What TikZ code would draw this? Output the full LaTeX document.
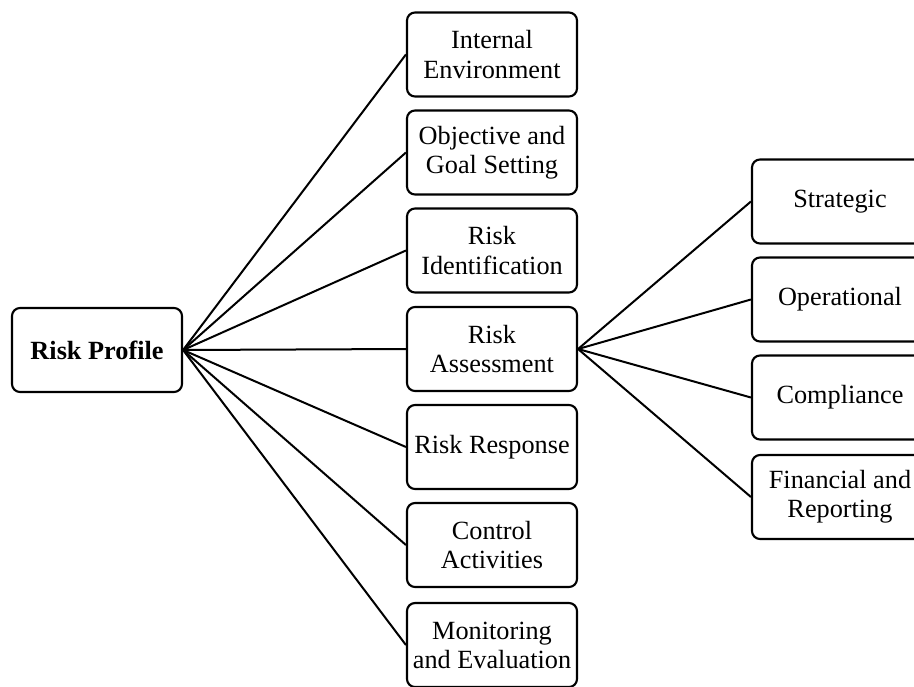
\documentclass[tikz,border=0pt]{standalone}
\usepackage{fontspec}
\setmainfont{Liberation Serif}
\begin{document}
\begin{tikzpicture}[x=0.75pt,y=-0.75pt,
  box/.style={draw, line width=1.6pt, rounded corners=6pt, minimum width=127.5pt,
    minimum height=63pt, align=center, inner sep=0pt,
    font=\fontsize{19.7}{21.8}\selectfont},
  wide/.style={minimum width=132pt},
  link/.style={line width=1.5pt}]
\useasboundingbox (0,0) rectangle (914,686);
\clip (0,0) rectangle (914,686);
\node[box, font=\fontsize{19.7}{21.8}\selectfont\bfseries] (rp) at (97,350) {Risk Profile};
\node[box] (ie) at (492,54.5) {Internal\\Environment};
\node[box] (og) at (492,152.5) {Objective and\\Goal Setting};
\node[box] (ri) at (492,250.5) {Risk\\Identification};
\node[box] (ra) at (492,349) {Risk\\Assessment};
\node[box] (rr) at (492,447) {Risk Response};
\node[box] (ca) at (492,545) {Control\\Activities};
\node[box] (me) at (492,645) {Monitoring\\and Evaluation};
\node[box, wide] (st) at (840,201.5) {Strategic};
\node[box, wide] (op) at (840,299.5) {Operational};
\node[box, wide] (co) at (840,397.5) {Compliance};
\node[box, wide] (fr) at (840,497) {Financial and\\Reporting};
\foreach \t in {ie,og,ri,ra,rr,ca,me}
  \draw[link] (rp.east) -- (\t.west);
\foreach \t in {st,op,co,fr}
  \draw[link] (ra.east) -- (\t.west);
\end{tikzpicture}
\end{document}
